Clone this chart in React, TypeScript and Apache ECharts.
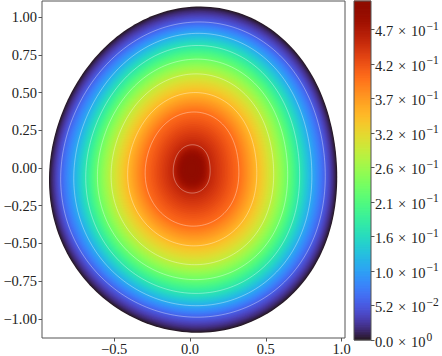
import React, { useEffect, useRef } from "react";
import * as echarts from "echarts";

// ---- data ----
// position and value of the maximum of the field
const peakX = 0.01;
const peakY = -0.005;
const peakValue = 0.5156;
// outline of the domain (data units), read around the shape
const boundaryX = [0.968, 0.891, 0.803, 0.693, 0.516, 0.297, 0.0, -0.264, -0.516, -0.704, -0.846, -0.923, -0.846, -0.77, -0.648, -0.484, -0.264, 0.0, 0.297, 0.582, 0.737, 0.836, 0.891];
const boundaryY = [0.0, 0.411, 0.631, 0.784, 0.949, 1.026, 1.053, 1.004, 0.85, 0.631, 0.389, 0.0, -0.415, -0.635, -0.833, -0.964, -1.02, -1.07, -1.02, -0.954, -0.822, -0.635, -0.415];
// contour line levels
const lineLevels = [0.0573, 0.1146, 0.1719, 0.2292, 0.2864, 0.3437, 0.401, 0.4583];
// relative radius (fraction of the way from peak to edge) of each contour line
const rhoHoriz = [0.918, 0.826, 0.742, 0.66, 0.564, 0.448, 0.325, 0.128];
const rhoVert = [0.905, 0.835, 0.76, 0.676, 0.585, 0.47, 0.35, 0.148];
// axis ticks
const xTicks = [-0.5, 0.0, 0.5, 1.0];
const yTicks = [-1.0, -0.75, -0.5, -0.25, 0.0, 0.25, 0.5, 0.75, 1.0];
const cbTicks = [0, 0.0525, 0.105, 0.1575, 0.21, 0.2625, 0.315, 0.3675, 0.42, 0.4725];
const cbMantissa = ["0.0", "5.2", "1.0", "1.6", "2.1", "2.6", "3.2", "3.7", "4.2", "4.7"];
const cbExponent = ["0", "\u22122", "\u22121", "\u22121", "\u22121", "\u22121", "\u22121", "\u22121", "\u22121", "\u22121"];

const XMIN = -0.976, XMAX = 1.0224, YMIN = -1.1272, YMAX = 1.1075;
const FONT = "Liberation Serif";

function turbo(t: number): string {
  t = Math.min(1, Math.max(0, t));
  const t2 = t * t, t3 = t2 * t, t4 = t3 * t, t5 = t4 * t;
  const r = 0.13572138 + 4.6153926 * t - 42.66032258 * t2 + 132.13108234 * t3 - 152.94239396 * t4 + 59.28637943 * t5;
  const g = 0.09140261 + 2.19418839 * t + 4.84296658 * t2 - 14.18503333 * t3 + 4.27729857 * t4 + 2.82956604 * t5;
  const b = 0.1066733 + 12.64194608 * t - 60.58204836 * t2 + 110.36276771 * t3 - 89.90310912 * t4 + 27.34824973 * t5;
  const c = (v: number) => Math.round(255 * Math.min(1, Math.max(0, v)));
  return `rgb(${c(r)},${c(g)},${c(b)})`;
}

// smooth (low-order Fourier, least squares) outline in polar form around the peak
const HARM = 3;
function fitBoundary(): number[] {
  const p = 1 + 2 * HARM;
  const AtA = Array.from({ length: p }, () => new Array(p).fill(0));
  const Atr = new Array(p).fill(0);
  boundaryX.forEach((x, i) => {
    const dx = x - peakX, dy = boundaryY[i] - peakY;
    const a = Math.atan2(dy, dx), r = Math.hypot(dx, dy);
    const row = [1];
    for (let m = 1; m <= HARM; m++) row.push(Math.cos(m * a), Math.sin(m * a));
    for (let u = 0; u < p; u++) {
      Atr[u] += row[u] * r;
      for (let w = 0; w < p; w++) AtA[u][w] += row[u] * row[w];
    }
  });
  const M = AtA.map((row, i) => [...row, Atr[i]]);
  for (let c = 0; c < p; c++) {
    let piv = c;
    for (let r = c + 1; r < p; r++) if (Math.abs(M[r][c]) > Math.abs(M[piv][c])) piv = r;
    [M[c], M[piv]] = [M[piv], M[c]];
    for (let r = 0; r < p; r++) {
      if (r === c) continue;
      const f = M[r][c] / M[c][c];
      for (let k = c; k <= p; k++) M[r][k] -= f * M[c][k];
    }
  }
  return M.map((row, i) => row[p] / row[i]);
}
const coef = fitBoundary();
function boundaryR(th: number): number {
  let r = coef[0];
  for (let m = 1; m <= HARM; m++) r += coef[2 * m - 1] * Math.cos(m * th) + coef[2 * m] * Math.sin(m * th);
  return r;
}

function rhoAt(v: number, th: number): number {
  const c2 = Math.cos(th) ** 2, s2 = 1 - c2;
  const rs = rhoHoriz.map((h, k) => h * c2 + rhoVert[k] * s2);
  const gs = [0, ...lineLevels];
  const rr = [1, ...rs];
  if (v >= gs[gs.length - 1]) {
    const last = rr[rr.length - 1];
    const f = Math.max(0, (peakValue - v) / (peakValue - gs[gs.length - 1]));
    return last * Math.sqrt(f);
  }
  for (let j = 0; j < gs.length - 1; j++) {
    if (v >= gs[j] && v <= gs[j + 1]) {
      const t = (v - gs[j]) / (gs[j + 1] - gs[j]);
      return rr[j] + (rr[j + 1] - rr[j]) * t;
    }
  }
  return 1;
}

const NTH = 220;
function levelPoints(v: number, api: any) {
  const pts: number[][] = [];
  for (let i = 0; i < NTH; i++) {
    const th = -Math.PI + (2 * Math.PI * i) / NTH;
    const r = rhoAt(v, th) * boundaryR(th);
    pts.push(api.coord([peakX + r * Math.cos(th), peakY + r * Math.sin(th)]));
  }
  return pts;
}

const NF = 160;
const fillLevels: number[][] = [];
for (let j = 0; j < NF; j++) fillLevels.push([(peakValue * j) / NF, (j + 0.5) / NF]);
const NCB = 200;
const cbSlices: number[][] = [];
for (let j = 0; j < NCB; j++) cbSlices.push([(peakValue * j) / NCB, (peakValue * (j + 1)) / NCB]);

const fmt = (v: number, d: number) => (v < -1e-9 ? "\u2212" : "") + Math.abs(v).toFixed(d);

export default function App() {
  const ref = useRef<HTMLDivElement>(null);
  useEffect(() => {
    if (!ref.current) return;
    const chart = echarts.init(ref.current, null, { renderer: "svg" });
    const labelStyle = { fontFamily: FONT, fontSize: 14.5, color: "#222" };
    chart.setOption({
      animation: false,
      grid: [
        { left: 42, top: 1, width: 303, height: 339, show: true, borderColor: "#555", borderWidth: 1, backgroundColor: "transparent", z: 10 },
        { left: 354, top: 1, width: 17, height: 339, show: true, borderColor: "#555", borderWidth: 1, backgroundColor: "transparent", z: 10 },
      ],
      xAxis: [
        {
          type: "value", gridIndex: 0, min: XMIN, max: XMAX, position: "bottom", splitLine: { show: false },
          axisLine: { show: false, onZero: false },
          axisTick: { show: true, customValues: xTicks, length: 3.5, lineStyle: { color: "#555" } },
          axisLabel: { ...labelStyle, customValues: xTicks, margin: 3, formatter: (v: number) => fmt(v, 1) },
        },
        { type: "value", gridIndex: 1, min: 0, max: 1, show: false, axisLine: { onZero: false } },
      ],
      yAxis: [
        {
          type: "value", gridIndex: 0, min: YMIN, max: YMAX, position: "left", splitLine: { show: false },
          axisLine: { show: false, onZero: false },
          axisTick: { show: true, customValues: yTicks, length: 3.5, lineStyle: { color: "#555" } },
          axisLabel: { ...labelStyle, customValues: yTicks, margin: 5, formatter: (v: number) => fmt(v, 2) },
        },
        {
          type: "value", gridIndex: 1, min: 0, max: peakValue, position: "right", splitLine: { show: false },
          axisLine: { show: false, onZero: false },
          axisTick: { show: true, customValues: cbTicks, length: 3.5, lineStyle: { color: "#555" } },
          axisLabel: {
            customValues: cbTicks, margin: 4, align: "left",
            formatter: (v: number) => {
              const k = Math.round(v / 0.0525);
              return `{m|${cbMantissa[k]}\u200a\u00a0\u00d7\u00a0\u200a10}{s|${cbExponent[k]}}`;
            },
            rich: {
              m: { fontFamily: FONT, fontSize: 14.5, color: "#222", lineHeight: 19, verticalAlign: "bottom" },
              s: { fontFamily: FONT, fontSize: 11.5, color: "#222", lineHeight: 11, verticalAlign: "top", padding: [0, 0, 0, 1] },
            },
          },
        },
      ],
      series: [
        {
          type: "custom", xAxisIndex: 0, yAxisIndex: 0, silent: true, clip: false,
          data: fillLevels,
          renderItem: (params: any, api: any) => ({
            type: "polygon",
            shape: { points: levelPoints(api.value(0), api) },
            style: { fill: turbo(api.value(1)), stroke: null },
          }),
        },
        {
          type: "custom", xAxisIndex: 0, yAxisIndex: 0, silent: true, clip: false,
          data: lineLevels.map((v) => [v]),
          renderItem: (params: any, api: any) => ({
            type: "polygon",
            shape: { points: levelPoints(api.value(0), api) },
            style: { fill: "none", stroke: "rgba(255,255,255,0.45)", lineWidth: 0.8 },
          }),
        },
        {
          type: "custom", xAxisIndex: 1, yAxisIndex: 1, silent: true,
          data: cbSlices,
          renderItem: (params: any, api: any) => {
            const v0 = api.value(0), v1 = api.value(1);
            const p0 = api.coord([0, v1]);
            const p1 = api.coord([1, v0]);
            return {
              type: "rect",
              shape: { x: p0[0], y: p0[1] - 0.4, width: p1[0] - p0[0], height: p1[1] - p0[1] + 0.8 },
              style: { fill: turbo((v0 + v1) / 2 / peakValue) },
            };
          },
        },
      ],
    });
    return () => chart.dispose();
  }, []);
  return <div ref={ref} style={{ position: "fixed", left: 0, top: 0, width: 442, height: 356, background: "#fff" }} />;
}
